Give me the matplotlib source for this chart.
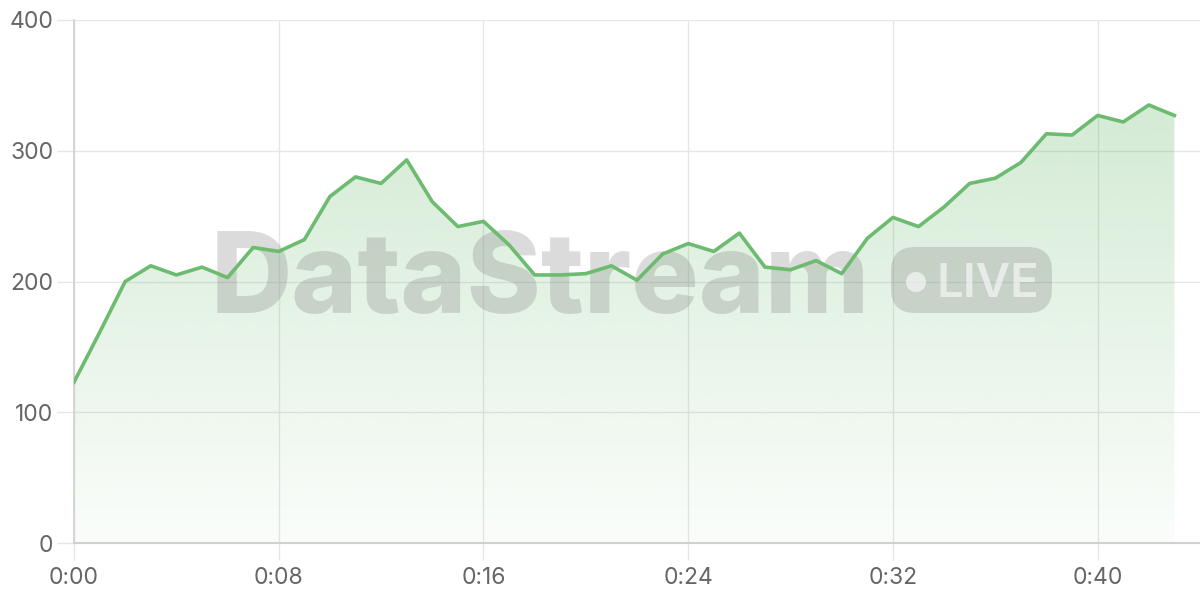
import numpy as np
import matplotlib
matplotlib.use("Agg")
import matplotlib.pyplot as plt
from matplotlib.patches import FancyBboxPatch, Polygon, Ellipse
from matplotlib.ticker import FuncFormatter

plt.rcParams["font.family"] = ["Inter", "DejaVu Sans"]

# data: one reading per second
seconds = list(range(44))
values = [123, 161, 200, 212, 205, 211, 203, 226, 223, 232,
          265, 280, 275, 293, 261, 242, 246, 228, 205, 205,
          206, 212, 201, 221, 229, 223, 237, 211, 209, 216,
          206, 233, 249, 242, 257, 275, 279, 291, 313, 312,
          327, 322, 335, 327]
x_ticks = [0, 8, 16, 24, 32, 40]
y_ticks = [0, 100, 200, 300, 400]

LINE = "#6dbb70"
GRID = "#e6e6e6"
AXIS = "#d0d0d0"
TXT = "#666666"

# axes box in pixels (1200x600 canvas)
AX_L, AX_B, AX_W, AX_H = 74, 57, 1126, 523

fig = plt.figure(figsize=(12, 6), dpi=100)
ax = fig.add_axes([AX_L / 1200, AX_B / 600, AX_W / 1200, AX_H / 600])

# gradient fill under the line
x = np.array(seconds)
y = np.array(values)
rgba = np.zeros((256, 1, 4))
rgba[..., 0] = 0x6d / 255
rgba[..., 1] = 0xbb / 255
rgba[..., 2] = 0x70 / 255
rgba[..., 3] = np.linspace(0.03, 0.30, 256).reshape(-1, 1)
im = ax.imshow(rgba, extent=[0, 44, 0, y.max()], origin="lower",
               aspect="auto", zorder=1)
verts = np.vstack([[x[0], 0], np.column_stack([x, y]), [x[-1], 0]])
clip = Polygon(verts, closed=True, transform=ax.transData,
               facecolor="none", edgecolor="none")
ax.add_patch(clip)
im.set_clip_path(clip)
ax.set_xlim(0, 44)
ax.set_ylim(0, 400)


def fx(px):
    return (px - AX_L) / AX_W


def fy(py):
    return (600 - AX_B - py) / AX_H


# watermark
ax.text(fx(540), fy(313), "DataStream", transform=ax.transAxes, ha="center",
        va="baseline", fontsize=81, fontweight="heavy", color="#888888",
        alpha=0.3, zorder=2)
r = 24 / AX_W
badge = FancyBboxPatch((fx(891) + r, fy(313) + r * AX_W / AX_H),
                       fx(1052) - fx(891) - 2 * r,
                       fy(247) - fy(313) - 2 * r * AX_W / AX_H,
                       boxstyle=f"round,pad={r},rounding_size={r}",
                       mutation_aspect=AX_W / AX_H,
                       transform=ax.transAxes, facecolor="#888888",
                       edgecolor="none", alpha=0.3, zorder=2)
ax.add_patch(badge)
ax.add_patch(Ellipse((fx(916), fy(282)), 20 / AX_W, 20 / AX_H,
                     transform=ax.transAxes, facecolor="white",
                     edgecolor="none", alpha=0.6, zorder=3))
ax.text(fx(936), fy(297), "LIVE", transform=ax.transAxes, ha="left",
        va="baseline", fontsize=34, fontweight="semibold", color="white",
        alpha=0.6, zorder=3)

ax.plot(x, y, color=LINE, lw=2.6, zorder=4)

# axes styling
ax.set_xticks(x_ticks)
ax.set_yticks(y_ticks)
ax.xaxis.set_major_formatter(
    FuncFormatter(lambda v, p: f"{int(v) // 60}:{int(v) % 60:02d}"))
ax.grid(True, color=GRID, lw=1, zorder=0)
ax.set_axisbelow(True)
for s in ["top", "right"]:
    ax.spines[s].set_visible(False)
ax.spines["left"].set_color(AXIS)
ax.spines["bottom"].set_color(AXIS)
ax.spines["left"].set_linewidth(1.2)
ax.spines["bottom"].set_linewidth(1.5)
ax.tick_params(axis="both", colors=GRID, length=12, width=1, labelcolor=TXT,
               labelsize=16.5)
ax.tick_params(axis="x", pad=5)
ax.tick_params(axis="y", pad=3)

fig.savefig("out.png", dpi=100)
